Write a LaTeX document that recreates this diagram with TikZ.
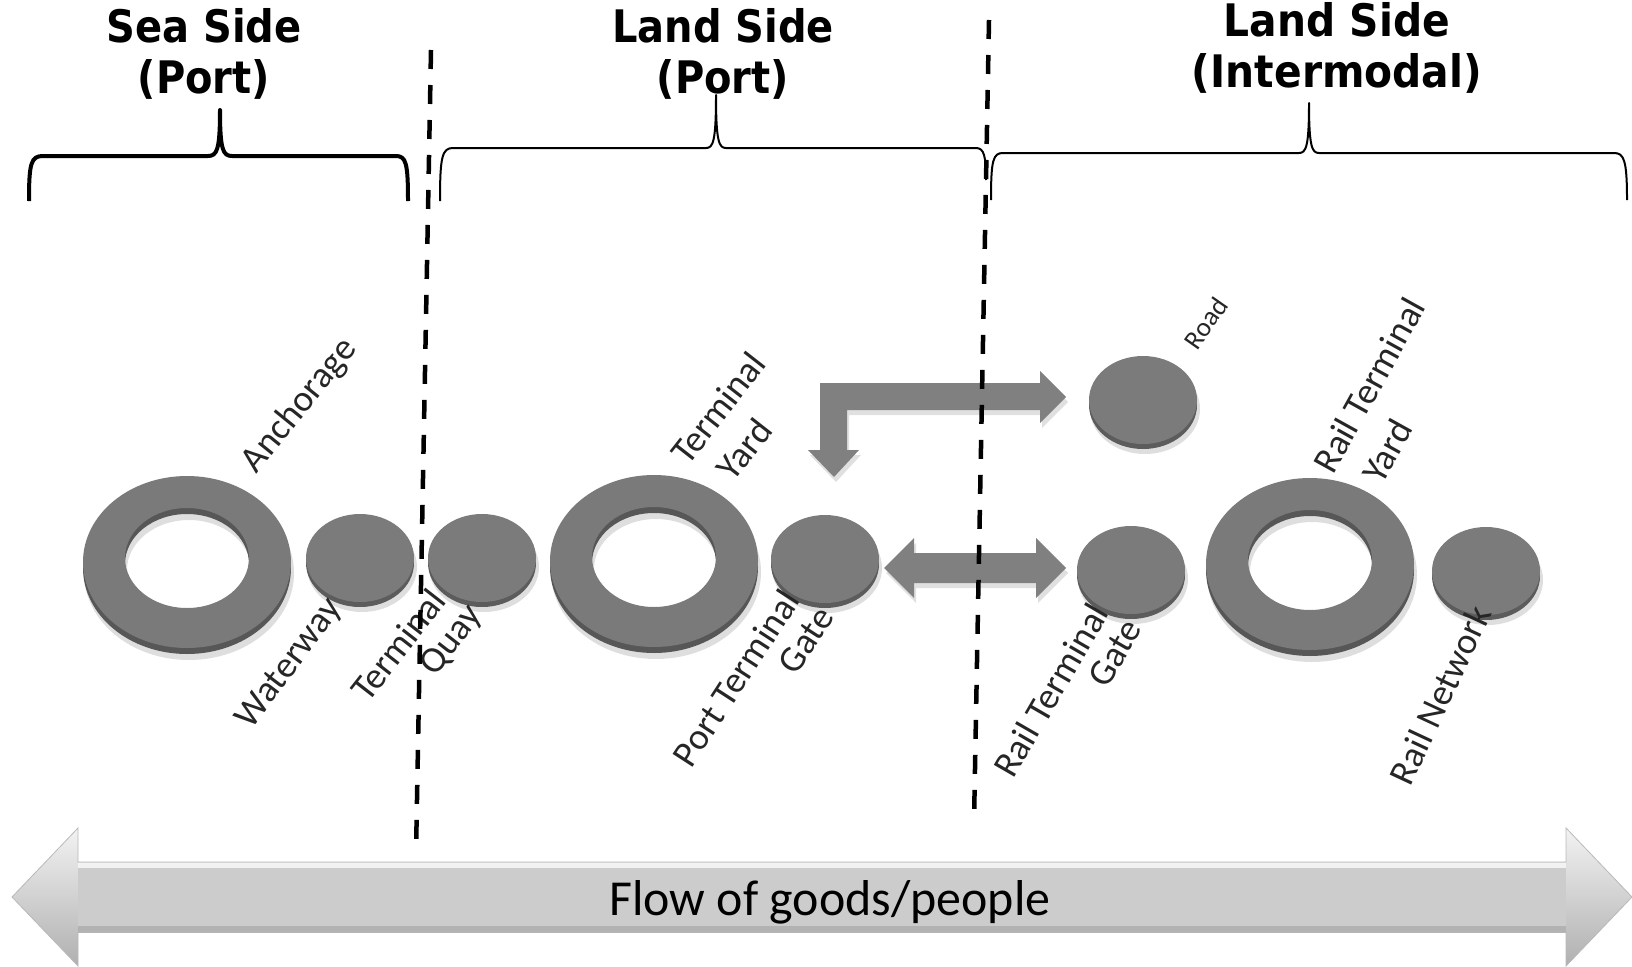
\documentclass[tikz,border=0pt]{standalone}
\usepackage{fontspec}
\setmainfont{Carlito}
\newfontfamily\titlefont{DejaVu Sans}
\definecolor{ringgray}{HTML}{7A7A7A}
\definecolor{ringdark}{HTML}{575757}
\definecolor{discgray}{HTML}{7B7B7B}
\definecolor{discdark}{HTML}{5C5C5C}
\definecolor{arrowgray}{HTML}{808080}
\tikzset{
  titletext/.style={font=\titlefont\bfseries\fontsize{40}{49}\selectfont, align=center, inner sep=0pt},
  lbl/.style={font=\fontsize{37}{42}\selectfont, text=black!85, inner sep=0pt},
  smalllbl/.style={font=\fontsize{27}{32}\selectfont, text=black!85, inner sep=0pt},
  flowtext/.style={font=\fontsize{48}{56}\selectfont, text=black, inner sep=0pt},
  divider/.style={line width=4.5pt, dash pattern=on 19pt off 16pt},
  bracethick/.style={line width=4pt, line join=round},
  bracethin/.style={line width=2pt, line join=round},
  blockarrow/.style={fill=arrowgray},
  arrowshadow/.style={fill=black, opacity=0.12},
}
\newcommand\drawdisc[1]{%
  \begin{scope}[shift={(#1)}]
    \fill[black, opacity=0.13] (2,9) ellipse [x radius=55, y radius=45];
    \fill[discdark] (0,5) ellipse [x radius=54, y radius=44];
    \fill[discgray] (0,0) ellipse [x radius=54, y radius=44];
  \end{scope}}
\newcommand\drawring[1]{%
  \begin{scope}[shift={(#1)}]
    \fill[black, opacity=0.13, even odd rule] (2,11) ellipse [x radius=105, y radius=87] (2,8) ellipse [x radius=62, y radius=50];
    \fill[ringdark, even odd rule] (0,6) ellipse [x radius=104, y radius=86] (0,2) ellipse [x radius=62, y radius=50];
    \fill[ringgray, even odd rule] (0,0) ellipse [x radius=104, y radius=86] (0,-4) ellipse [x radius=62, y radius=50];
  \end{scope}}
\begin{document}
\begin{tikzpicture}[x=1pt, y=-1pt]
\useasboundingbox (0,0) rectangle (1632,966);

% ---- titles ----
\node[titletext] (tsea) at (204,57) {\scalebox{1}[1.12]{\begin{tabular}{@{}c@{}}Sea Side\\[-3pt](Port)\end{tabular}}};
\node[titletext] (tland) at (723,57) {\scalebox{1}[1.12]{\begin{tabular}{@{}c@{}}Land Side\\[-3pt](Port)\end{tabular}}};
\node[titletext] (tinter) at (1337,51) {\scalebox{1.02}[1.12]{\begin{tabular}{@{}c@{}}Land Side\\[-3pt](Intermodal)\end{tabular}}};

% ---- braces ----
\draw[bracethick] (29,201) .. controls (29,163) and (31,156) .. (43,156) -- (208,156)
  .. controls (217,156) and (220,150) .. (220,110)
  .. controls (220,150) and (223,156) .. (232,156) -- (396,156)
  .. controls (406,156) and (408,163) .. (408,201);
\draw[bracethin] (440,201) .. controls (440,157) and (442,148) .. (453,148) -- (706,148)
  .. controls (713,148) and (716,142) .. (716,95)
  .. controls (716,142) and (719,148) .. (726,148) -- (976,148)
  .. controls (984,148) and (986,156) .. (986,180);
\draw[bracethin] (991,200) .. controls (991,160) and (993,153) .. (1003,153) -- (1299,153)
  .. controls (1306,153) and (1309,147) .. (1309,103)
  .. controls (1309,147) and (1312,153) .. (1319,153) -- (1614,153)
  .. controls (1624,153) and (1627,160) .. (1627,200);

% ---- element centres ----
\coordinate (anch) at (187,562);
\coordinate (water) at (360,558);
\coordinate (quay) at (482,558);
\coordinate (tyard) at (654,561);
\coordinate (pgate) at (825,559);
\coordinate (road) at (1143,400);
\coordinate (rgate) at (1131,570);
\coordinate (ryard) at (1310,564);
\coordinate (rnet) at (1486,571);

\drawring{anch}
\drawdisc{water}
\drawdisc{quay}
\drawring{tyard}
\drawdisc{pgate}
\drawdisc{road}
\drawdisc{rgate}
\drawring{ryard}
\drawdisc{rnet}

% ---- block arrows ----
\coordinate (bentR) at (1066,397);
\coordinate (bentD) at (834,477);
\coordinate (dblL) at (884,568);
\coordinate (dblR) at (1066,568);
\fill[arrowshadow] ([shift={(2,5)}]bentR) -- ++(-26,-26) -- ++(0,12) -- ++(-220,0) -- ++(0,67) -- ++(-12,0) -- ++(26,27) -- ++(25,-27) -- ++(-12,0) -- ++(0,-40) -- ++(193,0) -- ++(0,13) -- cycle;
\fill[blockarrow] (bentR) -- ++(-26,-26) -- ++(0,12) -- ++(-220,0) -- ++(0,67) -- ++(-12,0)
  -- (bentD) -- ++(25,-27) -- ++(-12,0) -- ++(0,-40) -- ++(193,0) -- ++(0,13) -- cycle;
\fill[arrowshadow] ([shift={(2,5)}]dblL) -- ++(30,-30) -- ++(0,15) -- ++(122,0) -- ++(0,-15) -- ++(30,30) -- ++(-30,30) -- ++(0,-15) -- ++(-122,0) -- ++(0,15) -- cycle;
\fill[blockarrow] (dblL) -- ++(30,-30) -- ++(0,15) -- ++(122,0) -- ++(0,-15) -- (dblR)
  -- ++(-30,30) -- ++(0,-15) -- ++(-122,0) -- ++(0,15) -- cycle;

% ---- labels ----
\node[lbl, rotate=51] (lanch) at (300,406) {Anchorage};
\node[lbl, rotate=53] (lwater) at (290,664) {Waterway};
\node[lbl, rotate=52] (lquayA) at (398,645) {Terminal};
\node[lbl, rotate=52] (lquayB) at (452,641) {Quay};
\node[lbl, rotate=52] (ltyardA) at (718,408) {Terminal};
\node[lbl, rotate=52] (ltyardB) at (744,449) {Yard};
\node[lbl, rotate=57] (lpgateA) at (736,678) {Port Terminal};
\node[lbl, rotate=57] (lpgateB) at (806,640) {Gate};
\node[smalllbl, rotate=55] (lroad) at (1206,323) {Road};
\node[lbl, rotate=60] (lrgateA) at (1051,690) {Rail Terminal};
\node[lbl, rotate=60] (lrgateB) at (1115,653) {Gate};
\node[lbl, rotate=61] (lryardA) at (1369,385) {Rail Terminal};
\node[lbl, rotate=61] (lryardB) at (1387,451) {Yard};
\node[lbl, rotate=65] (lrnet) at (1440,695) {Rail Network};

% ---- flow arrow ----
\coordinate (flowL) at (12,897);
\coordinate (flowR) at (1632,897);
\shade[top color=gray!10, middle color=gray!38, bottom color=gray!62]
  (flowL) -- ++(66,-69) -- ++(0,34) -- ++(1488,0) -- ++(0,-34) -- (flowR)
  -- ++(-66,69) -- ++(0,-34) -- ++(-1488,0) -- ++(0,34) -- cycle;
\fill[gray!40] (78,868) rectangle (1566,926);
\fill[white, opacity=0.6] (78,863) rectangle (1566,868);
\fill[gray!60] (78,926) rectangle (1566,933);
\draw[gray!55, line width=0.8pt] (flowL) -- ++(66,-69) -- ++(0,34) -- ++(1488,0) -- ++(0,-34) -- (flowR)
  -- ++(-66,69) -- ++(0,-34) -- ++(-1488,0) -- ++(0,34) -- cycle;
\node[flowtext] (flow) at (830,902) {\scalebox{1.04}[1.05]{Flow of goods/people}};

% ---- dividers ----
\coordinate (d1top) at (431,50);
\coordinate (d1bot) at (416,853);
\coordinate (d2top) at (989,20);
\coordinate (d2bot) at (974,822);
\draw[divider] (d1top) -- (d1bot);
\draw[divider] (d2top) -- (d2bot);
\end{tikzpicture}
\end{document}
